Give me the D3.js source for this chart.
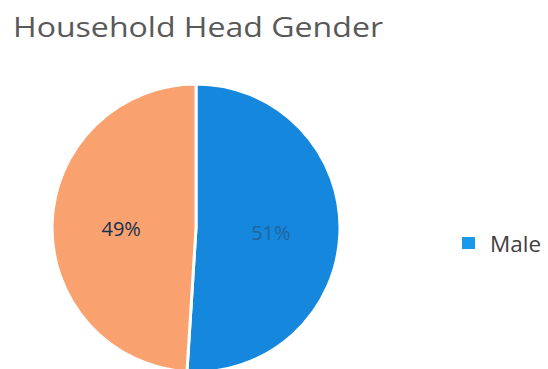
<!DOCTYPE html>
<html>
<head>
<meta charset="utf-8">
<script src="https://cdn.jsdelivr.net/npm/d3@7"></script>
<style>
  html, body { margin: 0; padding: 0; background: #ffffff; }
  svg { display: block; }
</style>
</head>
<body>
<svg id="chart" width="548" height="369"></svg>
<script>
// Household head gender shares (percent)
const categories = ["Male", "Female"];
const shares = [51, 49];
const sliceColors = ["#1587dc", "#f9a26f"];
const labelColors = ["#20659f", "#15304f"];
const legendCategories = ["Male"];
const legendColors = ["#1a98ea"];
const titleText = "Household Head Gender";

const svg = d3.select("#chart");
const W = 548, H = 369;

svg.append("rect").attr("width", W).attr("height", H).attr("fill", "#ffffff");

// Title
svg.append("text")
  .attr("x", 13).attr("y", 37)
  .attr("font-family", "'Open Sans', 'Noto Sans', sans-serif")
  .attr("font-size", 26.5)
  .attr("fill", "#595959")
  .attr("textLength", 370)
  .attr("lengthAdjust", "spacingAndGlyphs")
  .text(titleText);

// Pie
const cx = 196, cy = 228, r = 144;
const data = categories.map((c, i) => ({ cat: c, value: shares[i], color: sliceColors[i], labelColor: labelColors[i] }));
const pie = d3.pie().sort(null).value(d => d.value).startAngle(0).endAngle(2 * Math.PI);
const arc = d3.arc().innerRadius(0).outerRadius(r);
const labelArc = d3.arc().innerRadius(r * 0.52).outerRadius(r * 0.52);

const g = svg.append("g").attr("transform", `translate(${cx},${cy})`);
const arcs = pie(data);

g.selectAll("path.slice")
  .data(arcs)
  .join("path")
  .attr("class", "slice")
  .attr("d", arc)
  .attr("fill", d => d.data.color)
  .attr("stroke", "#ffffff")
  .attr("stroke-width", 3)
  .attr("stroke-linejoin", "round");

g.selectAll("text.pct")
  .data(arcs)
  .join("text")
  .attr("class", "pct")
  .attr("x", d => labelArc.centroid(d)[0])
  .attr("y", d => labelArc.centroid(d)[1] + 3)
  .attr("dy", "0.35em")
  .attr("text-anchor", "middle")
  .attr("font-family", "'Open Sans', 'Noto Sans', sans-serif")
  .attr("font-size", 20)
  .attr("fill", d => d.data.labelColor)
  .text(d => d.data.value + "%");

// Legend
const legend = svg.append("g").attr("transform", "translate(462,237)");
legendCategories.forEach((c, i) => {
  const row = legend.append("g").attr("transform", `translate(0,${i * 30})`);
  row.append("rect").attr("width", 13).attr("height", 12).attr("fill", legendColors[i]);
  row.append("text")
    .attr("x", 28).attr("y", 15)
    .attr("font-family", "'Open Sans', 'Noto Sans', sans-serif")
    .attr("font-size", 22.5)
    .attr("fill", "#404040")
    .text(c);
});
</script>
</body>
</html>
